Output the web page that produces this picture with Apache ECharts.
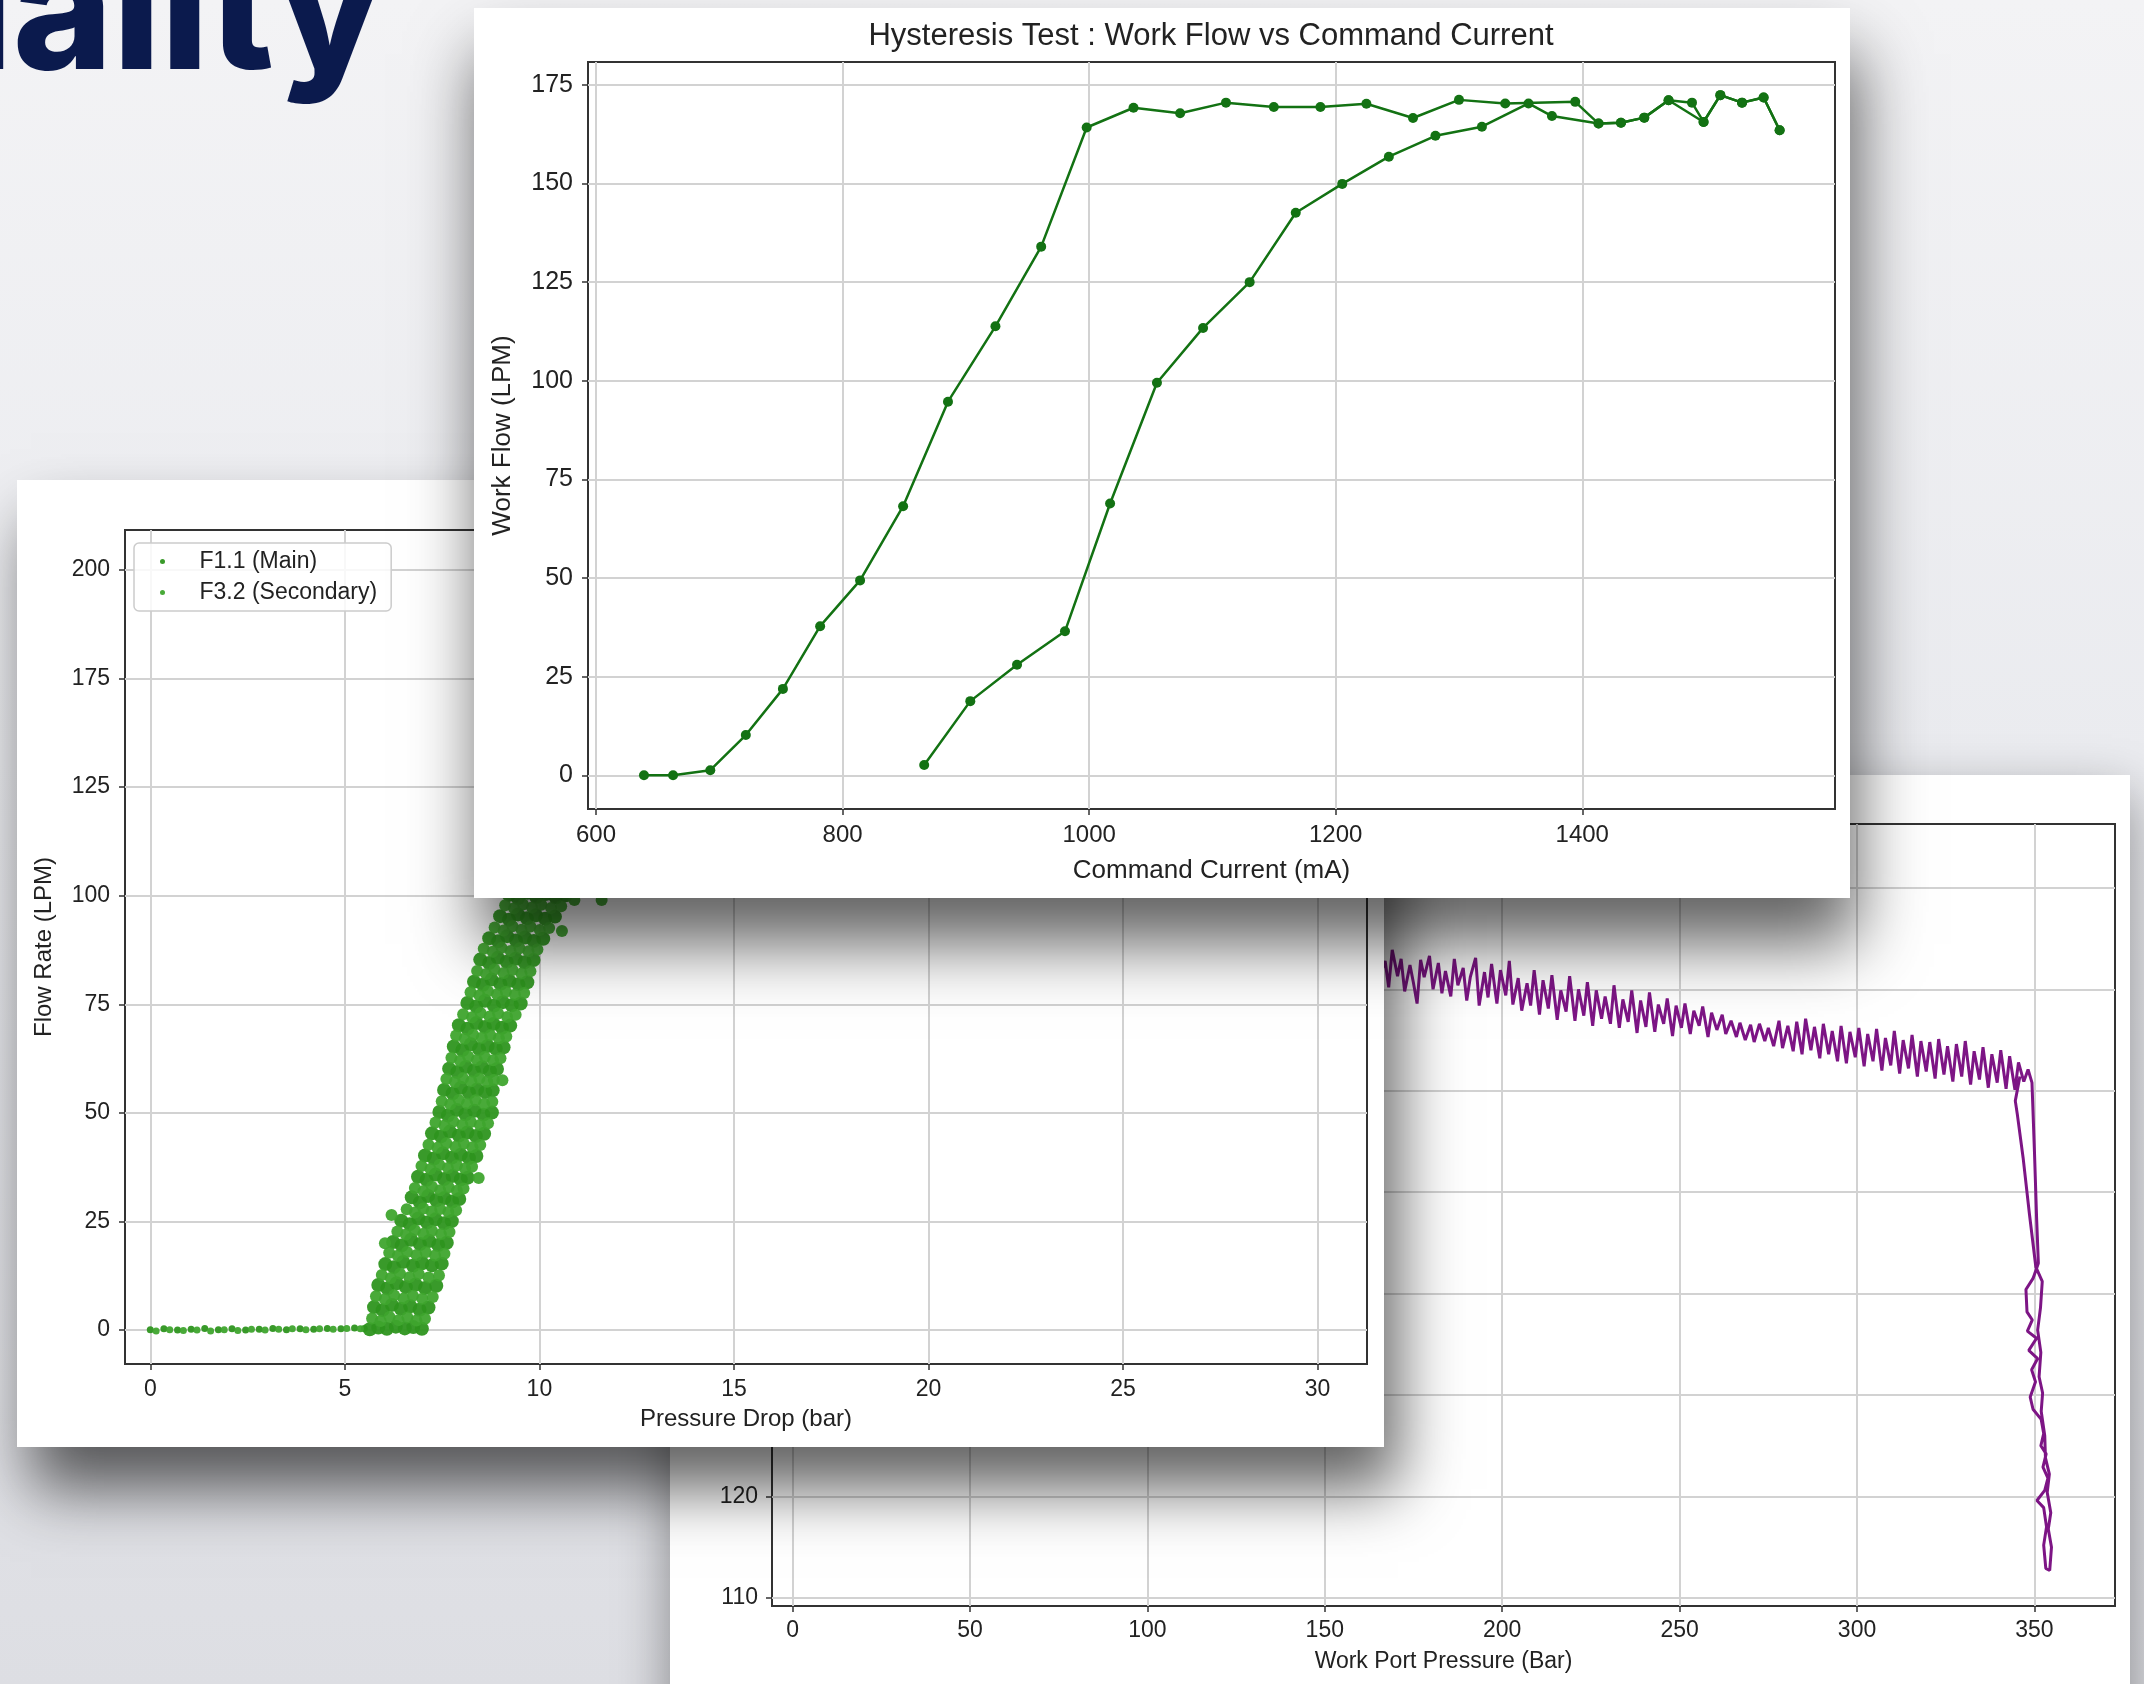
<!DOCTYPE html>
<html>
<head>
<meta charset="utf-8">
<title>Quality</title>
<script src="https://cdn.jsdelivr.net/npm/echarts@6/dist/echarts.min.js"></script>
<style>
  html, body { margin: 0; padding: 0; }
  body {
    width: 2144px; height: 1684px; overflow: hidden; position: relative;
    background: linear-gradient(180deg, #f3f3f5 0%, #eaebef 45%, #dddee3 100%);
  }
  .heading {
    position: absolute; left: -493px; top: -78px; width: 876px; text-align: right;
    font-family: Inter, 'Open Sans', sans-serif; font-weight: 800;
    font-size: 170px; line-height: 170px; color: #0b1a4d; white-space: nowrap;
  }
  .card { position: absolute; background: #fff; }
  #pressure_chart { left: 670px; top: 775px; width: 1460px; height: 1000px; box-shadow: 0 20px 50px rgba(0,0,0,0.4); }
  #scatter_chart { left: 17px; top: 480px; width: 1367px; height: 967px; box-shadow: 14px 42px 60px rgba(0,0,0,0.62); }
  #hyst_chart { left: 474px; top: 8px; width: 1376px; height: 890px; box-shadow: 6px 46px 64px rgba(0,0,0,0.62); }
</style>
</head>
<body>
<div class="heading">Quality</div>
<div class="card" id="pressure_chart"></div>
<div class="card" id="scatter_chart"></div>
<div class="card" id="hyst_chart"></div>
<script>
var FONT = "'Liberation Sans', Arial, sans-serif";

// ---- hysteresis test (top card) ----
var currentTicks = [600, 800, 1000, 1200, 1400];
var workFlowTicks = [0, 25, 50, 75, 100, 125, 150, 175];
// decreasing current branch (left curve + plateau)
var hystDown = [
  [638.9, 0], [662.5, 0], [692.7, 1.3], [721.5, 10.2], [751.6, 21.9], [781.8, 37.8],
  [814.2, 49.4], [849.1, 68.2], [885.5, 94.7], [924.0, 113.8], [961.1, 134.0], [998.0, 164.2],
  [1036.0, 169.2], [1073.8, 167.8], [1111.0, 170.5], [1149.8, 169.4], [1187.6, 169.4],
  [1224.9, 170.2], [1262.7, 166.6], [1300.0, 171.2], [1337.5, 170.3], [1394.3, 170.7],
  [1413.2, 165.2], [1431.4, 165.4], [1450.3, 166.7], [1470.0, 171.1], [1498.4, 165.6],
  [1512.0, 172.4], [1529.6, 170.5], [1547.1, 171.8], [1560.1, 163.5]
];
// increasing current branch (right curve)
var hystUp = [
  [866.2, 2.6], [903.6, 18.8], [941.5, 28.0], [980.4, 36.5], [1017.0, 68.9], [1055.0, 99.5],
  [1092.4, 113.4], [1130.2, 125.0], [1167.6, 142.6], [1205.3, 149.9], [1243.1, 156.8],
  [1280.9, 162.1], [1318.6, 164.4], [1356.4, 170.3], [1375.4, 167.1], [1413.2, 165.2],
  [1431.4, 165.4], [1450.3, 166.7], [1470.0, 171.1], [1489.0, 170.5], [1498.4, 165.6],
  [1512.0, 172.4], [1529.6, 170.5], [1547.1, 171.8], [1560.1, 163.5]
];

// ---- flow rate vs pressure drop (left card) ----
var dropTicks = [0, 5, 10, 15, 20, 25, 30];
var flowTickValues = [0, 25, 50, 75, 100, 125, 150, 175];
var flowTickLabels = ['0', '25', '50', '75', '100', '125', '175', '200'];
var seriesNames = ['F1.1 (Main)', 'F3.2 (Secondary)'];
var mainPoints = [
  [0.0,0.1],[0.35,0.3],[0.7,0.0],[1.05,0.2],[1.4,0.4],[1.75,0.1],[2.1,0.3],[2.45,0.0],[2.8,0.2],
  [3.15,0.4],[3.5,0.1],[3.85,0.3],[4.2,0.2],[4.55,0.4],[4.9,0.3],[5.25,0.5],[5.5,0.4],
  [5.64,0.2],[5.86,0.6],[6.08,0.3],[6.31,0.8],[6.54,0.4],[6.76,0.7],[6.98,0.3],
  [5.75,5.3],[5.97,4.6],[6.21,5.8],[6.44,4.9],[6.68,5.5],[6.92,4.7],[7.15,5.2],
  [5.86,10.4],[6.09,9.6],[6.33,10.8],[6.57,9.9],[6.82,10.5],[7.06,9.7],[7.35,10.2],
  [6.04,15.2],[6.26,14.5],[6.50,15.7],[6.75,14.8],[6.99,15.4],[7.24,14.9],[7.49,15.3],
  [6.24,20.3],[6.46,19.5],[6.70,20.8],[6.93,19.8],[7.17,20.5],[7.40,19.6],[7.62,20.1],
  [6.45,25.2],[6.67,24.4],[6.89,25.7],[7.11,24.8],[7.33,25.5],[7.55,24.6],[7.75,25.1],
  [6.72,30.6],[6.93,29.4],[7.14,30.9],[7.35,29.9],[7.56,30.4],[7.76,29.6],[7.94,30.2],
  [6.88,35.3],[7.10,34.6],[7.33,35.8],[7.55,34.8],[7.77,35.5],[7.98,34.7],[8.16,35.1],
  [7.06,40.2],[7.29,39.5],[7.52,40.7],[7.75,39.7],[7.98,40.4],[8.19,39.6],[8.38,40.1],
  [7.24,45.3],[7.47,44.6],[7.70,45.7],[7.93,44.8],[8.15,45.5],[8.37,44.7],[8.58,45.2],
  [7.43,50.2],[7.65,49.4],[7.88,50.7],[8.10,49.7],[8.33,50.5],[8.56,49.6],[8.78,50.1],
  [7.55,55.3],[7.77,54.5],[7.98,55.8],[8.19,54.7],[8.40,55.4],[8.61,54.8],[8.80,55.2],
  [7.68,60.2],[7.89,59.4],[8.11,60.6],[8.32,59.7],[8.53,60.5],[8.73,59.6],[8.91,60.1],
  [7.80,65.3],[8.02,64.5],[8.24,65.8],[8.45,64.7],[8.67,65.4],[8.88,64.8],[9.08,65.1],
  [7.93,70.2],[8.15,69.4],[8.38,70.7],[8.60,69.8],[8.82,70.5],[9.04,69.6],[9.25,70.1],
  [8.15,75.3],[8.38,74.5],[8.60,75.8],[8.83,74.7],[9.06,75.5],[9.29,74.8],[9.52,75.2],
  [8.32,80.2],[8.55,79.5],[8.77,80.7],[9.00,79.7],[9.23,80.4],[9.46,79.6],[9.69,80.1],
  [8.48,85.3],[8.71,84.5],[8.93,85.7],[9.16,84.8],[9.39,85.5],[9.62,84.7],[9.85,85.2],
  [8.71,90.2],[8.94,89.5],[9.17,90.7],[9.40,89.7],[9.63,90.4],[9.86,89.6],[10.10,90.1],
  [8.99,95.3],[9.22,94.5],[9.45,95.7],[9.68,94.8],[9.91,95.5],[10.15,94.7],[10.40,95.2],
  [9.22,100.2],[9.45,99.4],[9.69,100.7],[9.92,99.7],[10.16,100.4],[10.42,99.6],[10.68,100.1],
  [9.45,105.2],[9.75,104.5],[10.05,105.6],[10.35,104.8],[10.65,105.3],[10.90,104.9]
];
var secondaryPoints = [
  [0.15,-0.2],[0.5,0.1],[0.85,-0.1],[1.2,0.0],[1.55,-0.2],[1.9,0.1],[2.25,-0.1],[2.6,0.2],
  [2.95,0.0],[3.3,0.2],[3.65,0.3],[4.0,0.1],[4.35,0.3],[4.7,0.2],[5.05,0.4],[5.4,0.3],
  [5.70,2.7],[5.92,2.1],[6.15,3.0],[6.38,2.3],[6.61,2.9],[6.84,2.2],[7.06,2.6],
  [5.80,7.8],[6.03,7.1],[6.27,8.0],[6.51,7.3],[6.75,7.9],[6.99,7.2],[7.26,7.6],
  [5.95,12.7],[6.18,12.0],[6.42,13.0],[6.66,12.2],[6.90,12.9],[7.15,12.1],[7.42,12.6],
  [6.14,17.8],[6.36,17.1],[6.60,18.0],[6.84,17.3],[7.08,17.9],[7.32,17.2],[7.56,17.6],
  [6.35,22.7],[6.57,22.0],[6.80,23.0],[7.02,22.2],[7.24,22.9],[7.47,22.1],[7.69,22.6],
  [6.59,27.8],[6.80,27.1],[7.02,28.0],[7.23,27.3],[7.45,27.9],[7.66,27.2],[7.86,27.6],
  [6.80,32.7],[7.02,32.0],[7.24,33.0],[7.45,32.2],[7.67,32.9],[7.88,32.1],[8.05,32.6],
  [6.97,37.8],[7.20,37.1],[7.43,38.0],[7.65,37.3],[7.88,37.9],[8.09,37.2],[8.27,37.6],
  [7.15,42.7],[7.38,42.0],[7.61,43.0],[7.84,42.2],[8.06,42.9],[8.28,42.1],[8.48,42.6],
  [7.33,47.8],[7.56,47.1],[7.79,48.0],[8.02,47.3],[8.24,47.9],[8.47,47.2],[8.68,47.6],
  [7.49,52.7],[7.71,52.0],[7.93,53.0],[8.14,52.2],[8.36,52.9],[8.58,52.1],[8.79,52.6],
  [7.61,57.8],[7.83,57.1],[8.04,58.0],[8.25,57.3],[8.46,57.9],[8.66,57.2],[8.83,57.6],
  [7.74,62.7],[7.96,62.0],[8.17,63.0],[8.39,62.2],[8.60,62.9],[8.81,62.1],[9.00,62.6],
  [7.86,67.8],[8.08,67.1],[8.30,68.0],[8.52,67.3],[8.74,67.9],[8.96,67.2],[9.15,67.6],
  [8.04,72.7],[8.27,72.0],[8.49,73.0],[8.72,72.2],[8.94,72.9],[9.17,72.1],[9.39,72.6],
  [8.23,77.8],[8.46,77.1],[8.68,78.0],[8.91,77.3],[9.14,77.9],[9.37,77.2],[9.61,77.6],
  [8.40,82.7],[8.63,82.0],[8.85,83.0],[9.08,82.2],[9.31,82.9],[9.54,82.1],[9.77,82.6],
  [8.57,87.8],[8.80,87.1],[9.03,88.0],[9.26,87.3],[9.49,87.9],[9.72,87.2],[9.95,87.6],
  [8.85,92.7],[9.08,92.0],[9.31,93.0],[9.54,92.2],[9.77,92.9],[10.01,92.1],[10.25,92.6],
  [9.12,97.8],[9.35,97.1],[9.58,98.0],[9.81,97.3],[10.05,97.9],[10.30,97.2],[10.56,97.6],
  [9.35,102.7],[9.62,102.0],[9.90,103.0],[10.18,102.2],[10.46,102.9],[10.75,102.3],
  [10.58,91.9],[8.44,35.0],[6.03,20.0],[10.9,99.0],[11.6,99.0],[6.2,26.5],[9.05,57.5]
];

// ---- work flow vs work port pressure (right card) ----
var portTicks = [0, 50, 100, 150, 200, 250, 300, 350];
var portFlowTicks = [110, 120, 130, 140, 150, 160, 170, 180];
var portFlow = [
  [12,181.9],[14.5,180.2],[17,182.6],[19.5,179.9],[22,181.6],[24.5,179.4],[27,182.1],[29.5,179.2],
  [32,181.3],[34.5,178.7],[37,181.5],[39.5,178.4],[42,180.9],[44.5,178.2],[47,180.6],[49.5,177.6],
  [52,180.4],[54.5,177.5],[57,179.9],[59.5,177.1],[62,179.8],[64.5,176.7],[67,179.2],[69.5,176.4],
  [72,179.0],[74.5,176.0],[77,178.6],[79.5,175.9],[82,178.3],[84.5,175.4],[87,177.9],[89.5,175.1],
  [92,177.8],[94.5,174.6],[97,177.2],[99.5,174.5],[102,177.0],[104.5,174.1],[107,176.5],[109.5,173.8],
  [112,176.4],[114.5,173.4],[117,175.9],[119.5,173.2],[122,175.6],[124.5,172.8],[127,175.3],[129.5,172.6],
  [132,174.9],[134.5,172.1],[137,174.8],[139.5,171.7],[142,174.2],[144.5,171.5],[147,174.0],[149.5,171.2],
  [152,173.6],[154.5,170.8],[157,173.4],[159.5,170.6],[162,173.1],[164.5,170.3],
  [167,172.8],[168,170.2],[169,173.9],[170.5,171.3],[171.5,173.0],[172.5,169.8],[174,172.4],[175,170.6],
  [176,168.6],[177,172.9],[178,171.2],[179.5,173.3],[180.5,170.0],[182,172.6],[183,169.6],[184,171.8],
  [185.5,169.3],[186.5,173.0],[187.5,170.4],[189,172.1],[190,168.9],[191,171.2],[192.5,173.1],[193.5,168.4],
  [195,171.7],[196,169.2],[197,172.5],[198.5,168.6],[199.5,171.9],[201,169.4],[202,172.8],[203,168.5],
  [204.5,171.1],[205.5,167.9],[207,170.6],[208,168.4],[209,171.9],[210.5,167.5],[211.5,170.9],[213,168.1],
  [214,171.4],[215.5,167.0],[216.5,169.9],[218,167.8],[219,171.3],[220.5,166.9],[221.5,170.0],[223,167.4],
  [224,170.7],[225.5,166.4],[226.5,169.9],[228,167.1],[229,169.3],[230.5,166.6],[231.5,170.4],[233,166.2],
  [234,169.0],[235.5,166.8],[236.5,169.9],[238,165.7],[239,168.9],[240.5,166.3],[241.5,169.7],[243,165.8],
  [244,168.5],[245.5,166.6],[246.5,169.1],[248,165.4],[249,168.4],[250.5,166.2],[251.5,168.6],[253,165.6],
  [254,167.9],[255.5,166.4],[256.5,168.3],[258,165.3],[259,167.7],[260.5,166.0],[262,167.5],[263,165.6],
  [264.5,166.9],[266,165.3],[267,166.7],[268.5,165.0],[270,166.5],[271,164.8],[272.5,166.6],[274,164.9],
  [275,166.2],[276.5,164.4],[278,166.9],[279,164.2],[280.5,166.4],[282,163.9],[283,166.8],[284.5,163.6],
  [285.5,167.1],[287,164.0],[288,166.3],[289.5,163.2],[290.5,166.6],[292,163.6],[293,165.9],[294.5,162.9],
  [295.5,166.4],[297,162.7],[298,165.8],[299.5,163.3],[300.5,166.2],[302,162.4],[303,165.6],[304.5,162.9],
  [305.5,166.1],[307,162.0],[308,165.2],[309.5,162.5],[310.5,165.9],[312,161.7],[313,165.0],[314.5,162.2],
  [315.5,165.5],[317,161.4],[318,164.9],[319.5,161.9],[320.5,164.8],[322,161.2],[323,165.1],[324.5,161.6],
  [325.5,164.4],[327,160.9],[328,164.6],[329.5,161.4],[330.5,164.9],[332,160.6],[333,163.9],[334.5,161.1],
  [335.5,164.3],[337,160.3],[338,163.6],[339.5,160.8],[340.5,164.0],[342,160.2],[343,163.4],[344.5,160.1],
  [345.5,162.8],[347,160.9],[348.2,162.1],[349.3,160.8],[350.0,154.0],[350.6,147.5],[351.1,143.0],[349.6,141.5],
  [347.6,140.4],[347.9,138.2],[349.4,137.4],[348.0,136.3],[350.6,135.6],[348.4,134.4],[350.9,133.6],
  [349.2,132.5],[350.3,131.3],[348.8,129.8],[349.6,128.6],[351.9,127.6],[352.6,126.2],[351.8,125.0],
  [353.3,124.2],[352.4,122.9],[353.8,121.8],[352.9,120.6],[350.7,119.6],[352.6,118.9],[353.4,117.0],
  [352.6,115.2],[353.2,112.9],[354.3,112.7],[354.8,115.0],[353.9,116.8],[354.6,118.4],[353.6,120.4],
  [354.2,122.2],[353.1,123.8],[352.9,126.0],[351.9,128.4],[352.3,130.2],[351.3,131.8],[351.8,134.2],
  [350.9,136.4],[351.7,138.6],[352.2,141.2],[350.4,142.6],[348.6,147.8],[346.8,153.4],[345.2,157.6],
  [344.6,159.0],[345.9,161.4]
];

function valueAxis(opt) {
  return {
    type: 'value',
    min: opt.min, max: opt.max,
    name: opt.name, nameLocation: 'middle', nameGap: opt.nameGap, nameMoveOverlap: false,
    nameTextStyle: { fontFamily: FONT, fontSize: opt.nameSize, color: '#222' },
    axisLine: { show: false, onZero: false },
    axisTick: { show: true, customValues: opt.ticks, length: 6, lineStyle: { color: '#333', width: 1.5 } },
    axisLabel: {
      customValues: opt.ticks, margin: opt.margin, fontFamily: FONT, fontSize: opt.labelSize,
      color: '#222', formatter: opt.formatter || function (v) { return String(v); }
    },
    splitLine: { show: true, lineStyle: { color: '#d2d2d2', width: 2 } }
  };
}

var pressureChart = echarts.init(document.getElementById('pressure_chart'));
pressureChart.setOption({
  animation: false,
  grid: { left: 102, right: 15, top: 49, bottom: 169, show: true, borderColor: '#333', borderWidth: 2,
          containLabel: false, outerBoundsMode: 'none' },
  xAxis: valueAxis({ min: -5.8, max: 372.7, ticks: portTicks, name: 'Work Port Pressure (Bar)', nameGap: 44,
                     nameSize: 23, labelSize: 23, margin: 13 }),
  yAxis: valueAxis({ min: 109.2, max: 186.3, ticks: portFlowTicks, name: '', nameGap: 60,
                     nameSize: 23, labelSize: 23, margin: 14 }),
  series: [{
    type: 'line', data: portFlow, showSymbol: false, smooth: false,
    lineStyle: { color: '#7d1585', width: 3 }
  }]
});

var scatterChart = echarts.init(document.getElementById('scatter_chart'));
scatterChart.setOption({
  animation: false,
  grid: { left: 108, right: 17, top: 50, bottom: 83, show: true, borderColor: '#333', borderWidth: 2,
          containLabel: false, outerBoundsMode: 'none' },
  legend: {
    data: seriesNames, orient: 'vertical', left: 117, top: 63, icon: 'circle',
    itemWidth: 40, itemHeight: 5, itemGap: 8, padding: [7, 14, 7, 26],
    borderColor: '#cccccc', borderWidth: 1.5, borderRadius: 5, backgroundColor: 'rgba(255,255,255,0.85)',
    textStyle: { fontFamily: FONT, fontSize: 23, color: '#222', padding: [0, 0, 0, 12] }
  },
  xAxis: valueAxis({ min: -0.65, max: 31.27, ticks: dropTicks, name: 'Pressure Drop (bar)', nameGap: 43,
                     nameSize: 24, labelSize: 23, margin: 14 }),
  yAxis: valueAxis({ min: -7.8, max: 184.2, ticks: flowTickValues, name: 'Flow Rate (LPM)', nameGap: 69,
                     nameSize: 24, labelSize: 23, margin: 15,
                     formatter: function (v) { return flowTickLabels[flowTickValues.indexOf(v)]; } }),
  series: [
    { name: seriesNames[0], type: 'scatter', data: mainPoints,
      symbolSize: function (p) { return p[0] < 5.6 ? 7 : 14; },
      itemStyle: { color: '#2e951f', opacity: 0.95 } },
    { name: seriesNames[1], type: 'scatter', data: secondaryPoints,
      symbolSize: function (p) { return p[0] < 5.6 ? 7 : 12; },
      itemStyle: { color: '#3fa52e', opacity: 0.95 } }
  ]
});

var hystChart = echarts.init(document.getElementById('hyst_chart'));
hystChart.setOption({
  animation: false,
  title: {
    text: 'Hysteresis Test : Work Flow vs Command Current', left: 732, top: 8, textAlign: 'center',
    textStyle: { fontFamily: FONT, fontSize: 31, fontWeight: 'normal', color: '#222' }
  },
  grid: { left: 114, right: 15, top: 54, bottom: 89, show: true, borderColor: '#333', borderWidth: 2,
          containLabel: false, outerBoundsMode: 'none' },
  xAxis: valueAxis({ min: 593.5, max: 1605, ticks: currentTicks, name: 'Command Current (mA)', nameGap: 49,
                     nameSize: 26, labelSize: 24, margin: 14 }),
  yAxis: valueAxis({ min: -8.54, max: 180.8, ticks: workFlowTicks, name: 'Work Flow (LPM)', nameGap: 72,
                     nameSize: 26, labelSize: 25, margin: 15 }),
  series: [
    { type: 'line', data: hystDown, symbol: 'circle', symbolSize: 10,
      lineStyle: { color: '#137213', width: 2.5 }, itemStyle: { color: '#137213' } },
    { type: 'line', data: hystUp, symbol: 'circle', symbolSize: 10,
      lineStyle: { color: '#137213', width: 2.5 }, itemStyle: { color: '#137213' } }
  ]
});
</script>
</body>
</html>
